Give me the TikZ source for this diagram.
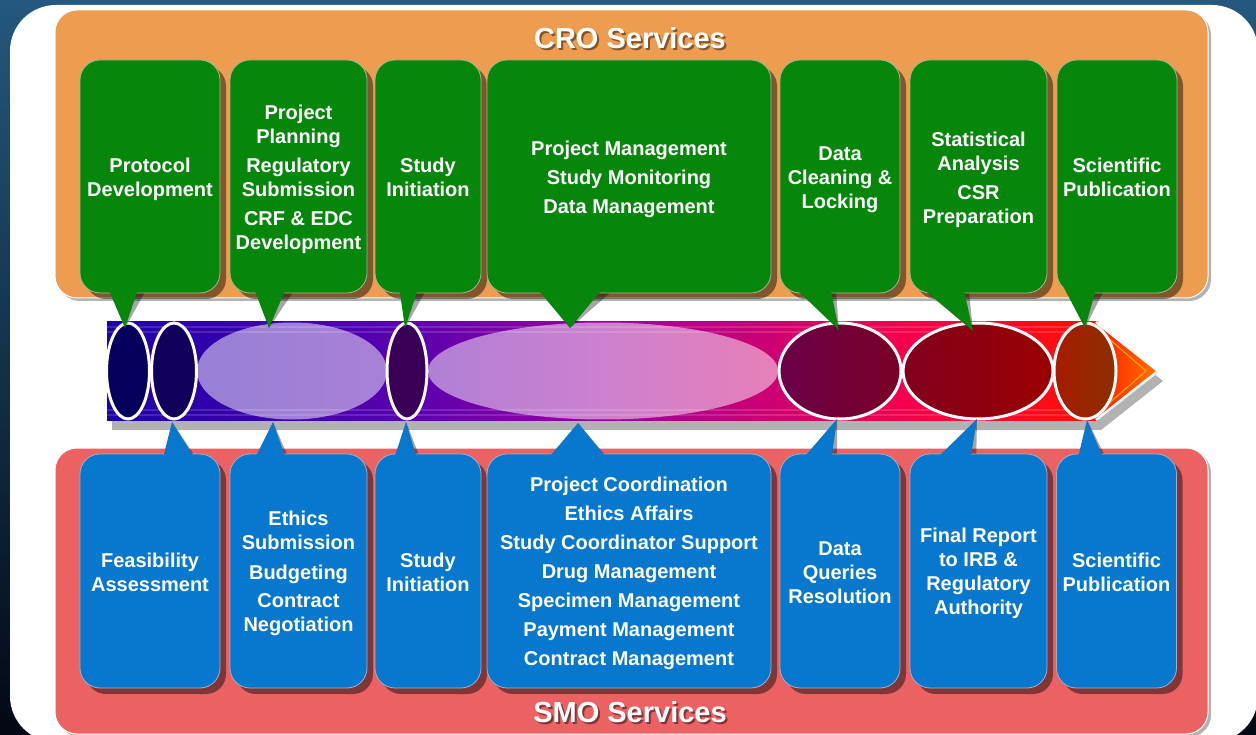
\documentclass[tikz,border=0pt]{standalone}
\usepackage{fontspec}
\setmainfont{Liberation Sans}
\usetikzlibrary{shapes.geometric,shadows}
\definecolor{gfill}{RGB}{7,134,12}
\definecolor{gedge}{RGB}{150,190,150}
\definecolor{bfill}{RGB}{7,120,205}
\definecolor{bedge}{RGB}{150,180,210}
\definecolor{orpanel}{RGB}{237,156,80}
\definecolor{rdpanel}{RGB}{236,98,98}
\definecolor{bgtop}{RGB}{36,88,126}
\definecolor{bgbot}{RGB}{2,8,20}
\definecolor{bA}{RGB}{28,0,168}
\definecolor{bB}{RGB}{88,0,176}
\definecolor{bC}{RGB}{154,0,160}
\definecolor{bD}{RGB}{208,0,112}
\definecolor{bE}{RGB}{255,0,64}
\definecolor{bF}{RGB}{255,16,0}
\pgfdeclarehorizontalshading{bandshade}{100bp}{color(0bp)=(bA); color(25bp)=(bA); color(39.75bp)=(bB); color(49.8bp)=(bC); color(58.9bp)=(bD); color(67.4bp)=(bE); color(75bp)=(bF); color(100bp)=(bF)}
\newcommand{\bxfont}{\fontsize{20}{24}\selectfont\bfseries}
\newcommand{\ttlfont}{\fontsize{29}{34}\selectfont\bfseries}
\begin{document}
\begin{tikzpicture}[x=1pt,y=-1pt,
  gbox/.style={rounded corners=20pt, fill=gfill, draw=gedge, line width=0.8pt, inner sep=0pt, drop shadow={shadow xshift=6pt,shadow yshift=-6pt,opacity=0.45,fill=black}},
  bbox/.style={gbox, fill=bfill, draw=bedge},
  txt/.style={text=white, font=\bxfont, align=center, inner sep=0pt},
  gtail/.style={fill=gfill},
  btail/.style={fill=bfill},
  tshadow/.style={fill=black, opacity=0.35, xshift=6pt, yshift=-6pt},
  ell/.style={ellipse, draw=white, line width=3pt, inner sep=0pt, minimum height=96pt},
  lell/.style={ellipse, fill=white, fill opacity=0.5, inner sep=0pt, minimum height=97pt},
  ttl/.style={font=\ttlfont, text=white, inner sep=0pt},
  ttlsh/.style={font=\ttlfont, text=black, text opacity=0.45, inner sep=0pt},
  panel/.style={rounded corners=22pt, draw=white, line width=1pt, drop shadow={shadow xshift=3pt,shadow yshift=-3pt,opacity=0.3,fill=black}}
]
\useasboundingbox (0,0) rectangle (1256,735);
\clip (0,0) rectangle (1256,735);
% background
\fill[top color=bgtop, bottom color=bgbot] (0,0) rectangle (1256,735);
\fill[white, rounded corners=46pt] (10,5) rectangle (1258,742);
% panels
\path[panel, fill=orpanel] (55,10) rectangle (1208,298);
\path[panel, fill=rdpanel] (55,448) rectangle (1208,734);
% titles
\node[ttlsh] (crosh) at (632,40.5) {CRO Services};
\node[ttl] (crot) at (630,38) {CRO Services};
\node[ttlsh] (smosh) at (632,714.5) {SMO Services};
\node[ttl] (smot) at (630,712) {SMO Services};
% band
\fill[black, opacity=0.3, xshift=5pt, yshift=-10pt] (107,322) -- (1096,322) -- (1158,371) -- (1096,420) -- (107,420) -- cycle;
\shade[shading=bandshade] (107,322) rectangle (1098,420);
\foreach \yy in {327,332,410,415} \draw[white, opacity=0.15, line width=1.2pt] (107,\yy) -- (1098,\yy);
\shade[left color=red!80!orange, right color=orange!90!red] (1094,322) -- (1158,371) -- (1094,420) -- cycle;
\draw[orange!60!yellow, line width=1pt] (1100,331) -- (1146,371) -- (1100,411);
\draw[white, line width=2.5pt, line join=miter] (1096,322) -- (1158,371) -- (1096,420);
% light ellipses
\node[lell, minimum width=190pt] (L1) at (292,371) {};
\node[lell, minimum width=350pt] (L2) at (603,371) {};
% bordered ellipses
\node[ell, minimum width=43pt, fill={rgb,255:red,4;green,0;blue,92}] (e1) at (128,371) {};
\node[ell, minimum width=45pt, fill={rgb,255:red,16;green,0;blue,92}] (e2) at (174,371) {};
\node[ell, minimum width=40pt, fill={rgb,255:red,58;green,0;blue,88}] (e4) at (407,371) {};
\node[ell, minimum width=122pt, left color={rgb,255:red,106;green,0;blue,72}, right color={rgb,255:red,122;green,0;blue,37}] (e6) at (840,371) {};
\node[ell, minimum width=150pt, left color={rgb,255:red,130;green,0;blue,30}, right color={rgb,255:red,154;green,0;blue,0}] (e7) at (978,371) {};
\node[ell, minimum width=62pt, left color={rgb,255:red,168;green,26;blue,0}, right color={rgb,255:red,140;green,48;blue,0}] (e8) at (1085,371) {};
% tail tips
\coordinate (p1) at (125,328);
\coordinate (p2) at (269,328);
\coordinate (p3) at (405,328);
\coordinate (p4) at (570,328);
\coordinate (p5) at (839,330);
\coordinate (p6) at (973,331);
\coordinate (p7) at (1085,328);
\coordinate (q1) at (172,422);
\coordinate (q2) at (273,422);
\coordinate (q3) at (406,422);
\coordinate (q4) at (578,423);
\coordinate (q5) at (837,419);
\coordinate (q6) at (977,419);
\coordinate (q7) at (1087,420);
% CRO boxes
\fill[tshadow] (107,286) -- (p1) -- (139,286) -- cycle;
\node[gbox, minimum width=140pt, minimum height=233pt] (c1) at (150,176.5) {};
\fill[gtail] (107,286) -- (p1) -- (139,286) -- cycle;
\fill[tshadow] (253,286) -- (p2) -- (287,286) -- cycle;
\node[gbox, minimum width=137pt, minimum height=233pt] (c2) at (298.5,176.5) {};
\fill[gtail] (253,286) -- (p2) -- (287,286) -- cycle;
\fill[tshadow] (399,286) -- (p3) -- (419,286) -- cycle;
\node[gbox, minimum width=106pt, minimum height=233pt] (c3) at (428,176.5) {};
\fill[gtail] (399,286) -- (p3) -- (419,286) -- cycle;
\fill[tshadow] (535,286) -- (p4) -- (605,286) -- cycle;
\node[gbox, minimum width=284pt, minimum height=233pt] (c4) at (629,176.5) {};
\fill[gtail] (535,286) -- (p4) -- (605,286) -- cycle;
\fill[tshadow] (793,286) -- (p5) -- (830,286) -- cycle;
\node[gbox, minimum width=120pt, minimum height=233pt] (c5) at (840,176.5) {};
\fill[gtail] (793,286) -- (p5) -- (830,286) -- cycle;
\fill[tshadow] (920,286) -- (p6) -- (963,286) -- cycle;
\node[gbox, minimum width=137pt, minimum height=233pt] (c6) at (978.5,176.5) {};
\fill[gtail] (920,286) -- (p6) -- (963,286) -- cycle;
\fill[tshadow] (1063,286) -- (p7) -- (1097,286) -- cycle;
\node[gbox, minimum width=120pt, minimum height=233pt] (c7) at (1117,176.5) {};
\fill[gtail] (1063,286) -- (p7) -- (1097,286) -- cycle;
% CRO texts
\node[txt] (c1t) at ([yshift=-3pt]c1.center) {Protocol\\Development};
\node[txt] (c2t) at ([yshift=-3pt]c2.center) {Project\\Planning\\[5pt]Regulatory\\Submission\\[5pt]CRF \& EDC\\Development};
\node[txt] (c3t) at ([yshift=-1pt]c3.center) {Study\\Initiation};
\node[txt] (c4t) at ([yshift=-3pt]c4.center) {Project Management\\[5pt]Study Monitoring\\[5pt]Data Management};
\node[txt] (c5t) at ([yshift=-3pt]c5.center) {Data\\Cleaning \&\\Locking};
\node[txt] (c6t) at ([yshift=-3pt]c6.center) {Statistical\\Analysis\\[5pt]CSR\\Preparation};
\node[txt] (c7t) at ([yshift=-1pt]c7.center) {Scientific\\Publication};
% SMO boxes
\fill[tshadow] (162,462) -- (q1) -- (197,462) -- cycle;
\node[bbox, minimum width=140pt, minimum height=234pt] (s1) at (150,571) {};
\fill[btail] (162,462) -- (q1) -- (197,462) -- cycle;
\fill[tshadow] (253,462) -- (q2) -- (287,462) -- cycle;
\node[bbox, minimum width=137pt, minimum height=234pt] (s2) at (298.5,571) {};
\fill[btail] (253,462) -- (q2) -- (287,462) -- cycle;
\fill[tshadow] (393,462) -- (q3) -- (418,462) -- cycle;
\node[bbox, minimum width=106pt, minimum height=234pt] (s3) at (428,571) {};
\fill[btail] (393,462) -- (q3) -- (418,462) -- cycle;
\fill[tshadow] (545,462) -- (q4) -- (610,462) -- cycle;
\node[bbox, minimum width=284pt, minimum height=234pt] (s4) at (629,571) {};
\fill[btail] (545,462) -- (q4) -- (610,462) -- cycle;
\fill[tshadow] (800,462) -- (q5) -- (831,462) -- cycle;
\node[bbox, minimum width=120pt, minimum height=234pt] (s5) at (840,571) {};
\fill[btail] (800,462) -- (q5) -- (831,462) -- cycle;
\fill[tshadow] (933,462) -- (q6) -- (970,462) -- cycle;
\node[bbox, minimum width=137pt, minimum height=234pt] (s6) at (978.5,571) {};
\fill[btail] (933,462) -- (q6) -- (970,462) -- cycle;
\fill[tshadow] (1077,462) -- (q7) -- (1105,462) -- cycle;
\node[bbox, minimum width=120pt, minimum height=234pt] (s7) at (1116.5,571) {};
\fill[btail] (1077,462) -- (q7) -- (1105,462) -- cycle;
% SMO texts
\node[txt] (s1t) at ([yshift=-1pt]s1.center) {Feasibility\\Assessment};
\node[txt] (s2t) at ([yshift=-2pt]s2.center) {Ethics\\Submission\\[6pt]Budgeting\\[4pt]Contract\\Negotiation};
\node[txt] (s3t) at ([yshift=-1pt]s3.center) {Study\\Initiation};
\node[txt] (s4t) at ([yshift=-2.5pt]s4.center) {Project Coordination\\[5pt]Ethics Affairs\\[5pt]Study Coordinator Support\\[5pt]Drug Management\\[5pt]Specimen Management\\[5pt]Payment Management\\[5pt]Contract Management};
\node[txt] (s5t) at ([yshift=-2pt]s5.center) {Data\\Queries\\Resolution};
\node[txt] (s6t) at ([yshift=-2pt]s6.center) {Final Report\\to IRB \&\\Regulatory\\Authority};
\node[txt] (s7t) at ([yshift=-1pt]s7.center) {Scientific\\Publication};
\end{tikzpicture}
\end{document}
